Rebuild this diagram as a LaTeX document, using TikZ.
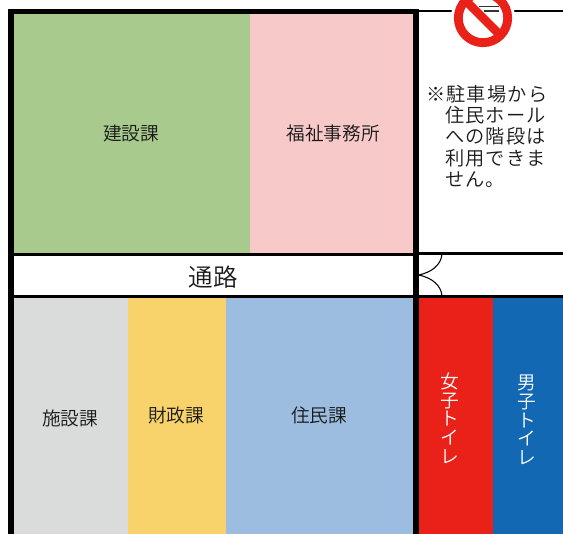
\documentclass[tikz,border=0pt]{standalone}
\usepackage{fontspec}
\setmainfont{Noto Sans CJK JP}[UprightFont=* DemiLight]
\newfontfamily\notefont[LetterSpace=6,UprightFont=* DemiLight]{Noto Sans CJK JP}
\definecolor{cgreen}{HTML}{A8CA8D}
\definecolor{cpink}{HTML}{F8C9C9}
\definecolor{cgrey}{HTML}{DADCDB}
\definecolor{cyellow}{HTML}{F8D36B}
\definecolor{cblue}{HTML}{9CBDDF}
\definecolor{cred}{HTML}{EA2118}
\definecolor{cnavy}{HTML}{1268B3}
\tikzset{
  x=0.75pt,y=-0.75pt,
  room/.style={inner sep=0pt,outer sep=0pt,text=black!90,font=\fontsize{14}{14}\selectfont},
  wall/.style={draw=black,line width=4.3pt},
  thinwall/.style={draw=black,line width=2pt},
  door/.style={draw=black,line width=0.8pt},
  toilet/.style={text=white,align=center,font=\fontsize{14}{14}\selectfont,inner sep=0pt}
}
\begin{document}
\begin{tikzpicture}
\useasboundingbox (0,0) rectangle (563,534);
% rooms
\fill[cgreen] (14,14) rectangle (250,254);
\fill[cpink] (250,14) rectangle (413,254);
\fill[cgrey] (14,297) rectangle (128,534);
\fill[cyellow] (128,297) rectangle (226,534);
\fill[cblue] (226,297) rectangle (413,534);
\fill[cred] (419,298) rectangle (493,534);
\fill[cnavy] (493,298) rectangle (563,534);
% labels
\node[room] (kensetsu) at (131,133) {建設課};
\node[room] (fukushi) at (333,133) {福祉事務所};
\node[room] (shisetsu) at (70,418) {施設課};
\node[room] (zaisei) at (176,415) {財政課};
\node[room] (jumin) at (319,415) {住民課};
\node[room,font=\fontsize{18.4}{18.4}\selectfont] (tsuro) at (213,277) {通路};
\node[toilet] (onna) at (450,418) {\baselineskip=14pt 女\\子\\ト\\イ\\レ};
\node[toilet] (otoko) at (527,420) {\baselineskip=14pt 男\\子\\ト\\イ\\レ};
\node[anchor=north west,inner sep=0pt,align=left,text=black!90,font=\fontsize{14.4}{15.9}\notefont] (note) at (426,85)
  {※駐車場から\\\hspace{0.98em}住民ホール\\\hspace{0.98em}への階段は\\\hspace{0.98em}利用できま\\\hspace{0.98em}せん。};
% walls
\draw[thinwall] (419,11) -- (563,11);
\draw[thinwall] (419,253.5) -- (563,253.5);
\draw[thinwall] (14,254.5) -- (413,254.5);
\draw[thinwall] (14,296.5) -- (563,296.5);
\draw[wall] (11,534) -- (11,11.5) -- (416,11.5) -- (416,534);
% doors
\coordinate (hinge) at (419,275);
\coordinate (doorA) at (442,254);
\coordinate (doorB) at (442,296);
\draw[door] (hinge) .. controls (432,272) and (441,265) .. (doorA);
\draw[door] (hinge) .. controls (432,278) and (441,285) .. (doorB);
% no-entry sign
\fill[white] (483,18) circle (32);
\draw[cred,line width=6.6pt] (483,18) circle (24.7);
\draw[black!80,line width=0.9pt] (479,6.5) -- (499,6.5);
\draw[black!80,line width=0.9pt] (484,11) -- (499,11);
\draw[cred,line width=6.6pt] (465.5,0.5) -- (500.5,35.5);
\end{tikzpicture}
\end{document}
